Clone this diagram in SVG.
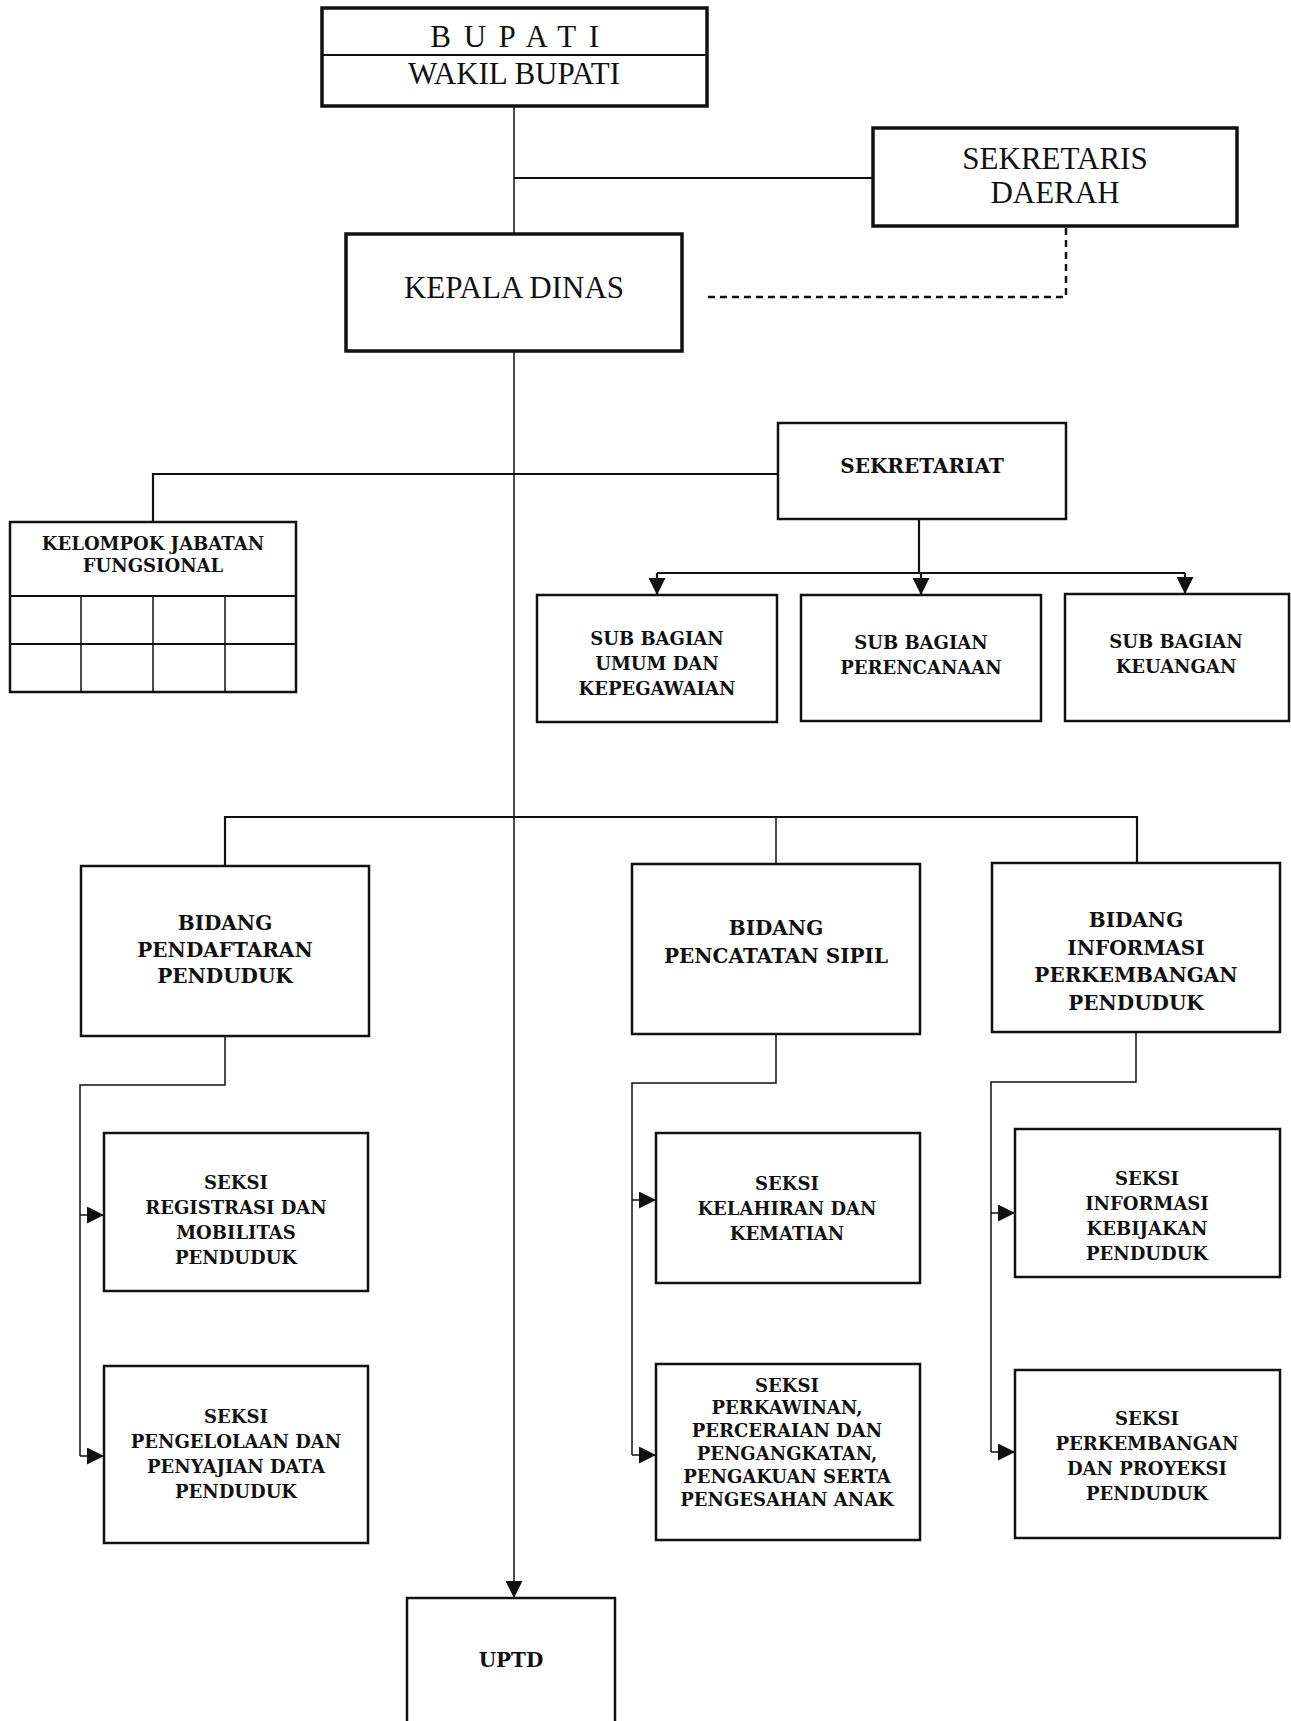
<svg xmlns="http://www.w3.org/2000/svg" width="1291" height="1721" viewBox="0 0 1291 1721">
<defs>
<style>
.box{fill:#fff;stroke:#111;stroke-width:2.5}
.thick{fill:#fff;stroke:#111;stroke-width:3.5}
.ln{fill:none;stroke:#111;stroke-width:2.2}
.thin{fill:none;stroke:#111;stroke-width:1.5}
.dash{fill:none;stroke:#111;stroke-width:2.5;stroke-dasharray:7 5}
.big{font-family:"Liberation Serif",serif;font-size:31px;fill:#111;text-anchor:middle}
.t{font-family:"DejaVu Serif","Liberation Serif",serif;font-weight:bold;font-size:18px;fill:#111;text-anchor:middle}
.b{font-family:"DejaVu Serif","Liberation Serif",serif;font-weight:bold;font-size:20px;fill:#111;text-anchor:middle}
</style>
<marker id="arr" markerUnits="userSpaceOnUse" markerWidth="17" markerHeight="17" viewBox="0 0 10 10" refX="10" refY="5" orient="auto">
<path d="M0,0 L10,5 L0,10 z" fill="#111"/>
</marker>
</defs>
<rect width="1291" height="1721" fill="#fff"/>

<g id="connectors">
<path class="thin" d="M514,106 V234"/>
<path class="ln" d="M514,178 H873"/>
<path class="dash" d="M708,297 H1066 V226"/>
<path class="thin" d="M514,351 V1598" marker-end="url(#arr)"/>
<path class="ln" d="M153,522 V474 H778"/>
<path class="ln" d="M919,519 V573"/>
<path class="ln" d="M657,573 H1185"/>
<path class="ln" d="M657,573 V595" marker-end="url(#arr)"/>
<path class="ln" d="M921,573 V595" marker-end="url(#arr)"/>
<path class="ln" d="M1185,573 V594" marker-end="url(#arr)"/>
<path class="ln" d="M225,866 V817 H1137 V863"/>
<path class="thin" d="M776,817 V864"/>
<path class="thin" d="M225,1036 V1085 H80 V1456"/>
<path class="thin" d="M80,1215 H104" marker-end="url(#arr)"/>
<path class="thin" d="M80,1456 H104" marker-end="url(#arr)"/>
<path class="thin" d="M776,1034 V1083 H632 V1455"/>
<path class="thin" d="M632,1200 H656" marker-end="url(#arr)"/>
<path class="thin" d="M632,1455 H656" marker-end="url(#arr)"/>
<path class="thin" d="M1136,1032 V1082 H991 V1452"/>
<path class="thin" d="M991,1213 H1015" marker-end="url(#arr)"/>
<path class="thin" d="M991,1452 H1015" marker-end="url(#arr)"/>
</g>

<g id="bupati">
<rect class="thick" x="322" y="8" width="385" height="98"/>
<line class="ln" x1="322" y1="55" x2="707" y2="55"/>
<text class="big" x="521" y="47" font-size="24" letter-spacing="12.6">BUPATI</text>
<text class="big" x="514" y="84">WAKIL BUPATI</text>
</g>

<g id="sekretaris-daerah">
<rect class="thick" x="873" y="128" width="364" height="98"/>
<text class="big" x="1055" y="169">SEKRETARIS</text>
<text class="big" x="1055" y="203">DAERAH</text>
</g>

<g id="kepala-dinas">
<rect class="thick" x="346" y="234" width="336" height="117"/>
<text class="big" x="514" y="298">KEPALA DINAS</text>
</g>

<g id="sekretariat">
<rect class="box" x="778" y="423" width="288" height="96"/>
<text class="b" x="922" y="473">SEKRETARIAT</text>
</g>

<g id="kelompok-jabatan-fungsional">
<rect class="box" x="10" y="522" width="286" height="170"/>
<line class="ln" x1="10" y1="596" x2="296" y2="596"/>
<line class="ln" x1="10" y1="644" x2="296" y2="644"/>
<line class="thin" x1="81" y1="596" x2="81" y2="692"/>
<line class="thin" x1="153" y1="596" x2="153" y2="692"/>
<line class="thin" x1="225" y1="596" x2="225" y2="692"/>
<text class="t" x="153" y="550">KELOMPOK JABATAN</text>
<text class="t" x="153" y="572">FUNGSIONAL</text>
</g>

<g id="sub-bagian-umum">
<rect class="box" x="537" y="595" width="240" height="127"/>
<text class="t" x="657" y="645">SUB BAGIAN</text>
<text class="t" x="657" y="670">UMUM DAN</text>
<text class="t" x="657" y="695">KEPEGAWAIAN</text>
</g>

<g id="sub-bagian-perencanaan">
<rect class="box" x="801" y="595" width="240" height="126"/>
<text class="t" x="921" y="649">SUB BAGIAN</text>
<text class="t" x="921" y="674">PERENCANAAN</text>
</g>

<g id="sub-bagian-keuangan">
<rect class="box" x="1065" y="594" width="224" height="127"/>
<text class="t" x="1176" y="648">SUB BAGIAN</text>
<text class="t" x="1176" y="673">KEUANGAN</text>
</g>

<g id="bidang-pendaftaran">
<rect class="box" x="81" y="866" width="288" height="170"/>
<text class="b" x="225" y="930">BIDANG</text>
<text class="b" x="225" y="957">PENDAFTARAN</text>
<text class="b" x="225" y="983">PENDUDUK</text>
</g>

<g id="bidang-pencatatan">
<rect class="box" x="632" y="864" width="288" height="170"/>
<text class="b" x="776" y="935">BIDANG</text>
<text class="b" x="776" y="963">PENCATATAN SIPIL</text>
</g>

<g id="bidang-informasi">
<rect class="box" x="992" y="863" width="288" height="169"/>
<text class="b" x="1136" y="927">BIDANG</text>
<text class="b" x="1136" y="955">INFORMASI</text>
<text class="b" x="1136" y="982">PERKEMBANGAN</text>
<text class="b" x="1136" y="1010">PENDUDUK</text>
</g>

<g id="seksi-registrasi">
<rect class="box" x="104" y="1133" width="264" height="158"/>
<text class="t" x="236" y="1189">SEKSI</text>
<text class="t" x="236" y="1214">REGISTRASI DAN</text>
<text class="t" x="236" y="1239">MOBILITAS</text>
<text class="t" x="236" y="1264">PENDUDUK</text>
</g>

<g id="seksi-pengelolaan">
<rect class="box" x="104" y="1366" width="264" height="177"/>
<text class="t" x="236" y="1423">SEKSI</text>
<text class="t" x="236" y="1448">PENGELOLAAN DAN</text>
<text class="t" x="236" y="1473">PENYAJIAN DATA</text>
<text class="t" x="236" y="1498">PENDUDUK</text>
</g>

<g id="seksi-kelahiran">
<rect class="box" x="656" y="1133" width="264" height="150"/>
<text class="t" x="787" y="1190">SEKSI</text>
<text class="t" x="787" y="1215">KELAHIRAN DAN</text>
<text class="t" x="787" y="1240">KEMATIAN</text>
</g>

<g id="seksi-perkawinan">
<rect class="box" x="656" y="1364" width="264" height="176"/>
<text class="t" x="787" y="1392">SEKSI</text>
<text class="t" x="787" y="1414">PERKAWINAN,</text>
<text class="t" x="787" y="1437">PERCERAIAN DAN</text>
<text class="t" x="787" y="1460">PENGANGKATAN,</text>
<text class="t" x="787" y="1483">PENGAKUAN SERTA</text>
<text class="t" x="787" y="1506">PENGESAHAN ANAK</text>
</g>

<g id="seksi-informasi">
<rect class="box" x="1015" y="1129" width="265" height="148"/>
<text class="t" x="1147" y="1185">SEKSI</text>
<text class="t" x="1147" y="1210">INFORMASI</text>
<text class="t" x="1147" y="1235">KEBIJAKAN</text>
<text class="t" x="1147" y="1260">PENDUDUK</text>
</g>

<g id="seksi-perkembangan">
<rect class="box" x="1015" y="1370" width="265" height="168"/>
<text class="t" x="1147" y="1425">SEKSI</text>
<text class="t" x="1147" y="1450">PERKEMBANGAN</text>
<text class="t" x="1147" y="1475">DAN PROYEKSI</text>
<text class="t" x="1147" y="1500">PENDUDUK</text>
</g>

<g id="uptd">
<rect class="box" x="407" y="1598" width="208" height="140"/>
<text class="b" x="511" y="1667">UPTD</text>
</g>
</svg>
